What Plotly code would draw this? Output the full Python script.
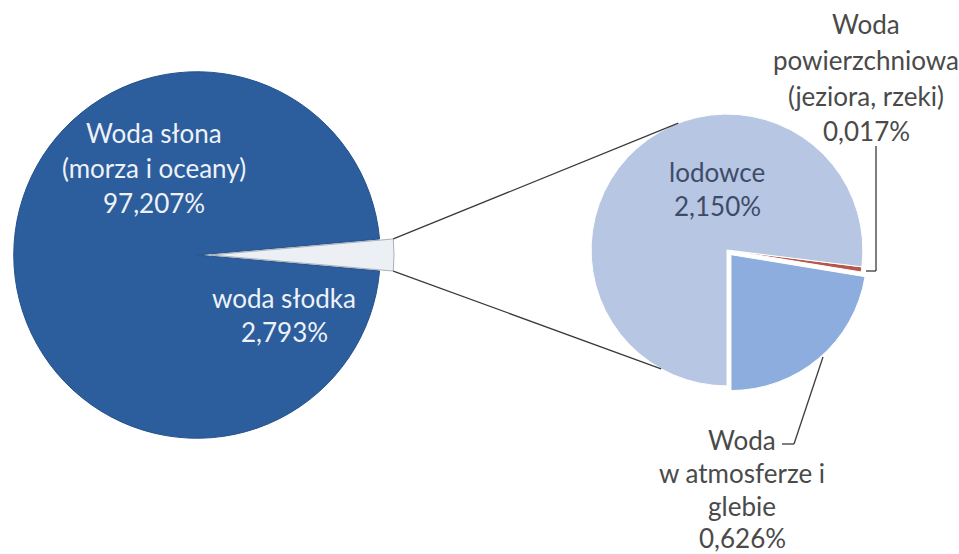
import math
import plotly.graph_objects as go

# ---- data ----
main_labels = ["woda słodka", "Woda słona (morza i oceany)"]
main_values = [2.793, 97.207]
sub_labels = ["Woda powierzchniowa (jeziora, rzeki)", "Woda w atmosferze i glebie", "lodowce"]
sub_values = [0.017, 0.626, 2.150]

W, H = 959, 554
FONT = "Lato"

def px(x):
    return x / W

def py(y):
    return 1 - y / H

# layout geometry (pixels)
L_CX, L_CY, L_HALF = 197, 255, 197
L_PULL = 0.075
R_CX, R_CY, R_HALF = 727, 250, 142
R_PULL = 0.045

fresh_angle = main_values[0] / sum(main_values) * 360
rot_left = 90 - fresh_angle / 2
sub_total = sum(sub_values)
rot_right = 180 - (sub_values[0] + sub_values[1]) / sub_total * 360

fig = go.Figure()
fig.add_trace(go.Pie(
    labels=main_labels, values=main_values, sort=False, direction="clockwise",
    rotation=rot_left, pull=[L_PULL, 0], textinfo="none", hoverinfo="skip",
    marker=dict(colors=["#eceff3", "#2c5d9c"], line=dict(color=["#a9b0ba", "#24528c"], width=1)),
    domain=dict(x=[px(L_CX - L_HALF), px(L_CX + L_HALF)],
                y=[py(L_CY + L_HALF + 10), py(L_CY - L_HALF - 10)]),
    showlegend=False,
))
fig.add_trace(go.Pie(
    labels=sub_labels, values=sub_values, sort=False, direction="clockwise",
    rotation=rot_right, pull=[0, R_PULL, 0], textinfo="none", hoverinfo="skip",
    marker=dict(colors=["#b5574a", "#8cadde", "#b7c6e3"], line=dict(color="#ffffff", width=1)),
    domain=dict(x=[px(R_CX - R_HALF), px(R_CX + R_HALF)],
                y=[py(R_CY + R_HALF), py(R_CY - R_HALF)]),
    showlegend=False,
))

# connector lines (from exploded wedge to second pie)
rL = L_HALF / (1 + L_PULL)
pL = L_PULL * rL
half = math.radians(fresh_angle / 2)
wx = L_CX + pL + rL * math.cos(half)
wy_top = L_CY - rL * math.sin(half)
wy_bot = L_CY + rL * math.sin(half)
rR = R_HALF / (1 + R_PULL)

def on_right(compass_deg):
    a = math.radians(compass_deg)
    return R_CX + rR * math.sin(a), R_CY - rR * math.cos(a)

tx, ty = on_right(339)
bx, by = on_right(209)
shapes = [
    dict(type="line", xref="paper", yref="paper", x0=px(wx), y0=py(wy_top), x1=px(tx), y1=py(ty),
         line=dict(color="#3a3a3a", width=1.3)),
    dict(type="line", xref="paper", yref="paper", x0=px(wx), y0=py(wy_bot), x1=px(bx), y1=py(by),
         line=dict(color="#3a3a3a", width=1.3)),
]
# leader lines
leaders = [
    [(876, 146), (876, 271), (866, 271)],
    [(823, 357), (794, 444), (782, 444)],
]
for pts in leaders:
    for (x0, y0), (x1, y1) in zip(pts[:-1], pts[1:]):
        shapes.append(dict(type="line", xref="paper", yref="paper", x0=px(x0), y0=py(y0),
                           x1=px(x1), y1=py(y1), line=dict(color="#3a3a3a", width=1.3)))

annotations = []
def label(lines, cx, ys, color):
    for t, y in zip(lines, ys):
        annotations.append(dict(text=t, x=px(cx), y=py(y), xref="paper", yref="paper",
                                showarrow=False, xanchor="center", yanchor="middle",
                                font=dict(family=FONT, size=26, color=color)))

label(["Woda słona", "(morza i oceany)", "97,207%"], 154, [133, 168, 203], "#eef2f8")
label(["woda słodka", "2,793%"], 284, [298, 332], "#eef2f8")
label(["lodowce", "2,150%"], 717, [172, 206], "#3d4c68")
label(["Woda", "powierzchniowa", "(jeziora, rzeki)", "0,017%"], 866, [24, 60, 96, 131], "#4a4a4a")
label(["Woda", "w atmosferze i", "glebie", "0,626%"], 742, [440, 473, 506, 538], "#4a4a4a")

fig.update_layout(
    width=W, height=H, margin=dict(l=0, r=0, t=0, b=0),
    paper_bgcolor="white", plot_bgcolor="white",
    shapes=shapes, annotations=annotations, showlegend=False,
)
fig.write_html("out.html", config={"displayModeBar": False},
               post_script="document.body.style.margin='0';document.body.style.overflow='hidden';")
